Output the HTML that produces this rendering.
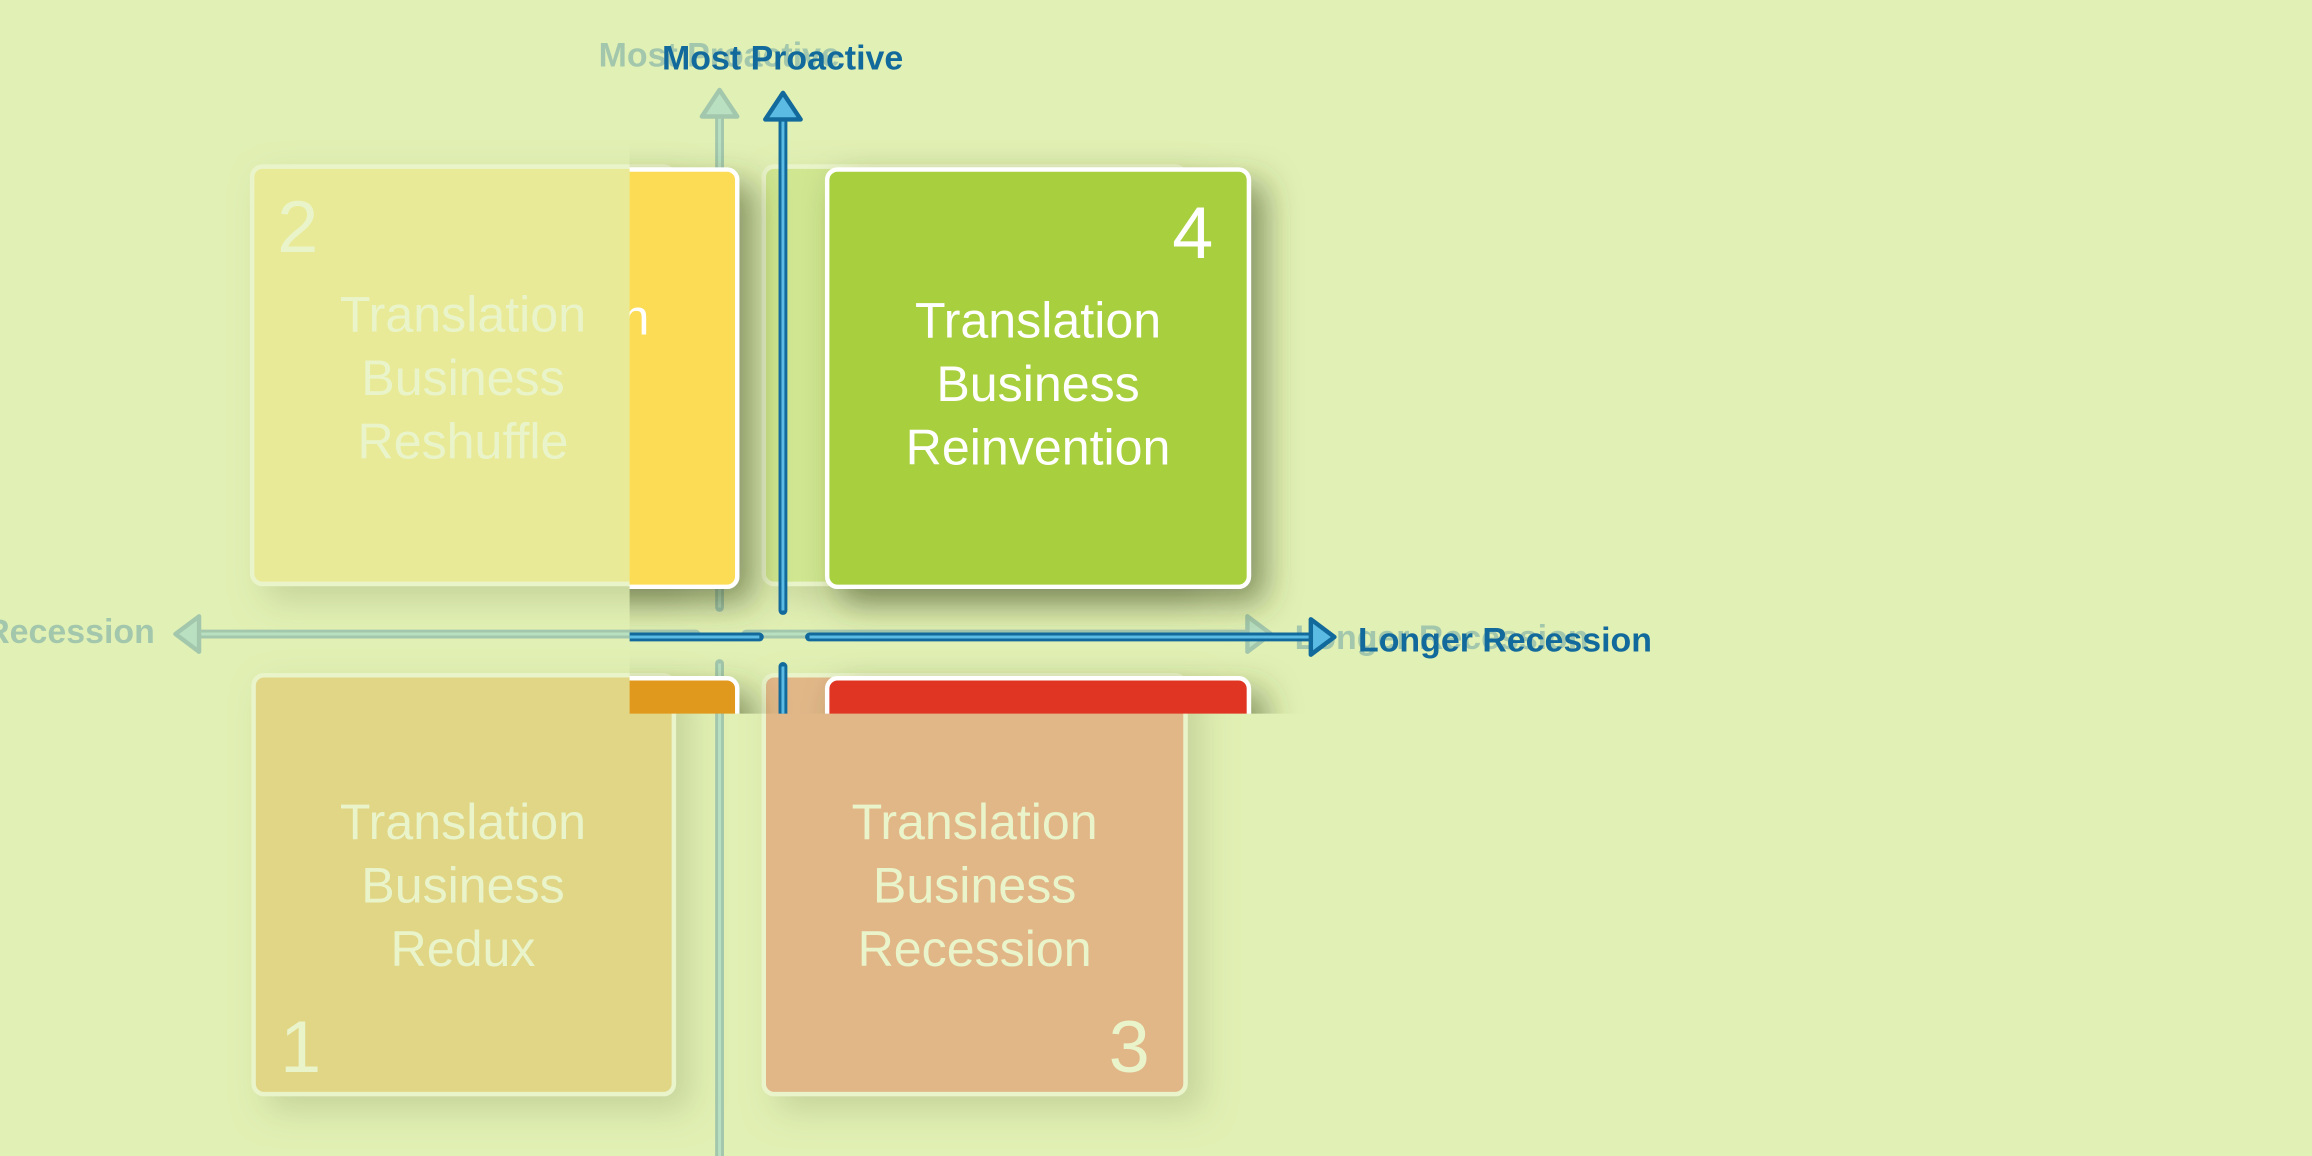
<!DOCTYPE html>
<html><head><meta charset="utf-8"><style>
html,body{margin:0;padding:0;background:#e1f0b4;}
svg{display:block}
text{font-family:"Liberation Sans",sans-serif}
</style></head><body>
<svg width="2312" height="1156" viewBox="0 0 1568 784" preserveAspectRatio="none" xmlns="http://www.w3.org/2000/svg">
<defs>
<filter id="sh" x="-30%" y="-30%" width="170%" height="170%">
<feDropShadow dx="10" dy="10" stdDeviation="11" flood-color="#3a4a20" flood-opacity="0.55"/>
</filter>
<clipPath id="ov"><rect x="427" y="0" width="1141" height="484"/></clipPath>
<g id="dg">
  <rect x="171" y="113" width="286" height="283" rx="7" fill="#fcdc55" stroke="#fff" stroke-width="3" filter="url(#sh)"/>
  <rect x="518" y="113" width="286" height="283" rx="7" fill="#a8cf3c" stroke="#fff" stroke-width="3" filter="url(#sh)"/>
  <rect x="172" y="458" width="285" height="284" rx="7" fill="#e0991c" stroke="#fff" stroke-width="3" filter="url(#sh)"/>
  <rect x="518" y="458" width="286" height="284" rx="7" fill="#e03424" stroke="#fff" stroke-width="3" filter="url(#sh)"/>
  <g fill="#fff" font-size="34" text-anchor="middle">
    <text x="314" y="225">Translation</text><text x="314" y="268">Business</text><text x="314" y="311">Reshuffle</text>
    <text x="661" y="227">Translation</text><text x="661" y="270">Business</text><text x="661" y="313">Reinvention</text>
    <text x="314" y="569">Translation</text><text x="314" y="612">Business</text><text x="314" y="655">Redux</text>
    <text x="661" y="569">Translation</text><text x="661" y="612">Business</text><text x="661" y="655">Recession</text>
  </g>
  <g fill="#fff" font-size="50">
    <text x="188" y="171">2</text>
    <text x="752" y="173">4</text>
    <text x="190" y="727">1</text>
    <text x="752" y="727">3</text>
  </g>
  <g stroke="#126a9c" stroke-width="6" fill="none" stroke-linecap="round">
    <line x1="488" y1="75" x2="488" y2="412"/>
    <line x1="488" y1="450" x2="488" y2="800"/>
    <line x1="134" y1="430" x2="472" y2="430"/>
    <line x1="506" y1="430" x2="848" y2="430"/>
  </g>
  <g stroke="#5bbbe2" stroke-width="2" fill="none">
    <line x1="488" y1="75" x2="488" y2="412"/>
    <line x1="488" y1="450" x2="488" y2="800"/>
    <line x1="134" y1="430" x2="472" y2="430"/>
    <line x1="506" y1="430" x2="848" y2="430"/>
  </g>
  <g fill="#5bbbe2" stroke="#126a9c" stroke-width="3" stroke-linejoin="round">
    <path d="M488 61 L500 79 L476 79 Z"/>
    <path d="M119 430 L135 418 L135 442 Z"/>
    <path d="M862 430 L846 418 L846 442 Z"/>
  </g>
  <g fill="#126a9c" font-size="23" font-weight="bold">
    <text x="406" y="45">Most Proactive</text>
    <text x="878" y="440">Longer Recession</text>
    <text x="105" y="436" text-anchor="end">Shorter Recession</text>
  </g>
</g>
</defs>
<rect width="1568" height="784" fill="#e1f0b4"/>
<use href="#dg"/>
<rect width="1568" height="784" fill="#e1f0b4" opacity="0.7"/>
<g clip-path="url(#ov)">
  <use href="#dg" transform="translate(43,2)"/>
</g>
</svg>
</body></html>
